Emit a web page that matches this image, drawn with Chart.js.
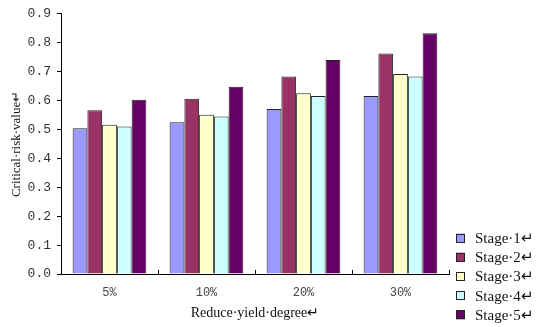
<!DOCTYPE html>
<html>
<head>
<meta charset="utf-8">
<script src="https://cdn.jsdelivr.net/npm/chart.js@4.4.1/dist/chart.umd.min.js"></script>
<style>
  html, body { margin: 0; padding: 0; background: #ffffff; }
  #wrap { width: 540px; height: 327px; position: relative; }
</style>
</head>
<body>
<div id="wrap"><canvas id="chart" width="540" height="327"></canvas></div>
<script>
// Critical risk value by reduce-yield degree, one series per stage
const categories = ['5%', '10%', '20%', '30%'];
const seriesNames = ['Stage·1↵', 'Stage·2↵', 'Stage·3↵', 'Stage·4↵', 'Stage·5↵'];
const stage1 = [0.504, 0.525, 0.571, 0.616];
const stage2 = [0.566, 0.606, 0.683, 0.763];
const stage3 = [0.516, 0.551, 0.625, 0.692];
const stage4 = [0.510, 0.545, 0.616, 0.683];
const stage5 = [0.603, 0.648, 0.740, 0.833];
const yTicks = [0.0, 0.1, 0.2, 0.3, 0.4, 0.5, 0.6, 0.7, 0.8, 0.9];
const colors = ['#9999FF', '#993366', '#FFFFCC', '#CCFFFF', '#660066'];

const seriesValues = [stage1, stage2, stage3, stage4, stage5];

// Upward tick marks on the category axis at group boundaries
const categoryTicks = {
  id: 'categoryTicks',
  afterDraw(chart) {
    const x = chart.scales.x;
    const ctx = chart.ctx;
    const n = categories.length;
    const step = (x.right - x.left) / n;
    ctx.save();
    ctx.strokeStyle = '#000';
    ctx.lineWidth = 1;
    for (let i = 1; i <= n; i++) {
      const px = Math.round(x.left + step * i) + 0.5;
      ctx.beginPath();
      ctx.moveTo(px, x.top);
      ctx.lineTo(px, x.top - 4);
      ctx.stroke();
    }
    ctx.restore();
  }
};

// Legend stacked at the lower right
const sideLegend = {
  id: 'sideLegend',
  afterDraw(chart) {
    const ctx = chart.ctx;
    const x0 = 456, y0 = 238, gap = 19.2, box = 9;
    ctx.save();
    ctx.font = '15px "Liberation Serif", "Times New Roman", serif';
    ctx.textBaseline = 'middle';
    chart.data.datasets.forEach((ds, i) => {
      const cy = y0 + i * gap;
      ctx.fillStyle = ds.backgroundColor;
      ctx.fillRect(x0, cy - box / 2, box, box);
      ctx.strokeStyle = '#222';
      ctx.lineWidth = 1;
      ctx.strokeRect(x0 + 0.5, Math.round(cy - box / 2) + 0.5, box - 1, box - 1);
      ctx.fillStyle = '#111';
      ctx.fillText(ds.label, x0 + 19, cy + 1);
    });
    ctx.restore();
  }
};

new Chart(document.getElementById('chart'), {
  type: 'bar',
  data: {
    labels: categories,
    datasets: seriesValues.map((vals, i) => ({
      label: seriesNames[i],
      data: vals,
      backgroundColor: colors[i],
      borderColor: '#222',
      borderWidth: 1,
      borderSkipped: 'bottom',
      categoryPercentage: 0.76,
      barPercentage: 1.0
    }))
  },
  options: {
    responsive: false,
    animation: false,
    layout: { padding: { top: 13, right: 91, left: 0, bottom: 0 } },
    plugins: {
      legend: { display: false },
      tooltip: { enabled: false }
    },
    scales: {
      x: {
        grid: { display: false, drawTicks: false },
        border: { display: true, color: '#000', width: 1 },
        ticks: {
          color: '#444',
          font: { family: '"Liberation Mono", monospace', size: 12 },
          padding: 12
        },
        title: {
          display: true,
          text: 'Reduce·yield·degree↵',
          color: '#111',
          font: { family: '"Liberation Serif", "Times New Roman", serif', size: 14 },
          padding: { top: 0, bottom: 5 }
        },
        afterFit(scale) { scale.height = 53; }
      },
      y: {
        min: 0,
        max: 0.9,
        afterBuildTicks(scale) { scale.ticks = yTicks.map(v => ({ value: v })); },
        grid: { drawOnChartArea: false, tickLength: 4, color: '#000' },
        border: { display: true, color: '#000', width: 1 },
        ticks: {
          color: '#333',
          font: { family: '"Liberation Mono", monospace', size: 13 },
          padding: 6,
          callback: v => Number(v).toFixed(1)
        },
        title: {
          display: true,
          text: 'Critical·risk·value↵',
          color: '#111',
          font: { family: '"Liberation Serif", "Times New Roman", serif', size: 13 },
          padding: { top: 9, bottom: 0 }
        },
        afterFit(scale) { scale.width = 61; }
      }
    }
  },
  plugins: [categoryTicks, sideLegend]
});
</script>
</body>
</html>
